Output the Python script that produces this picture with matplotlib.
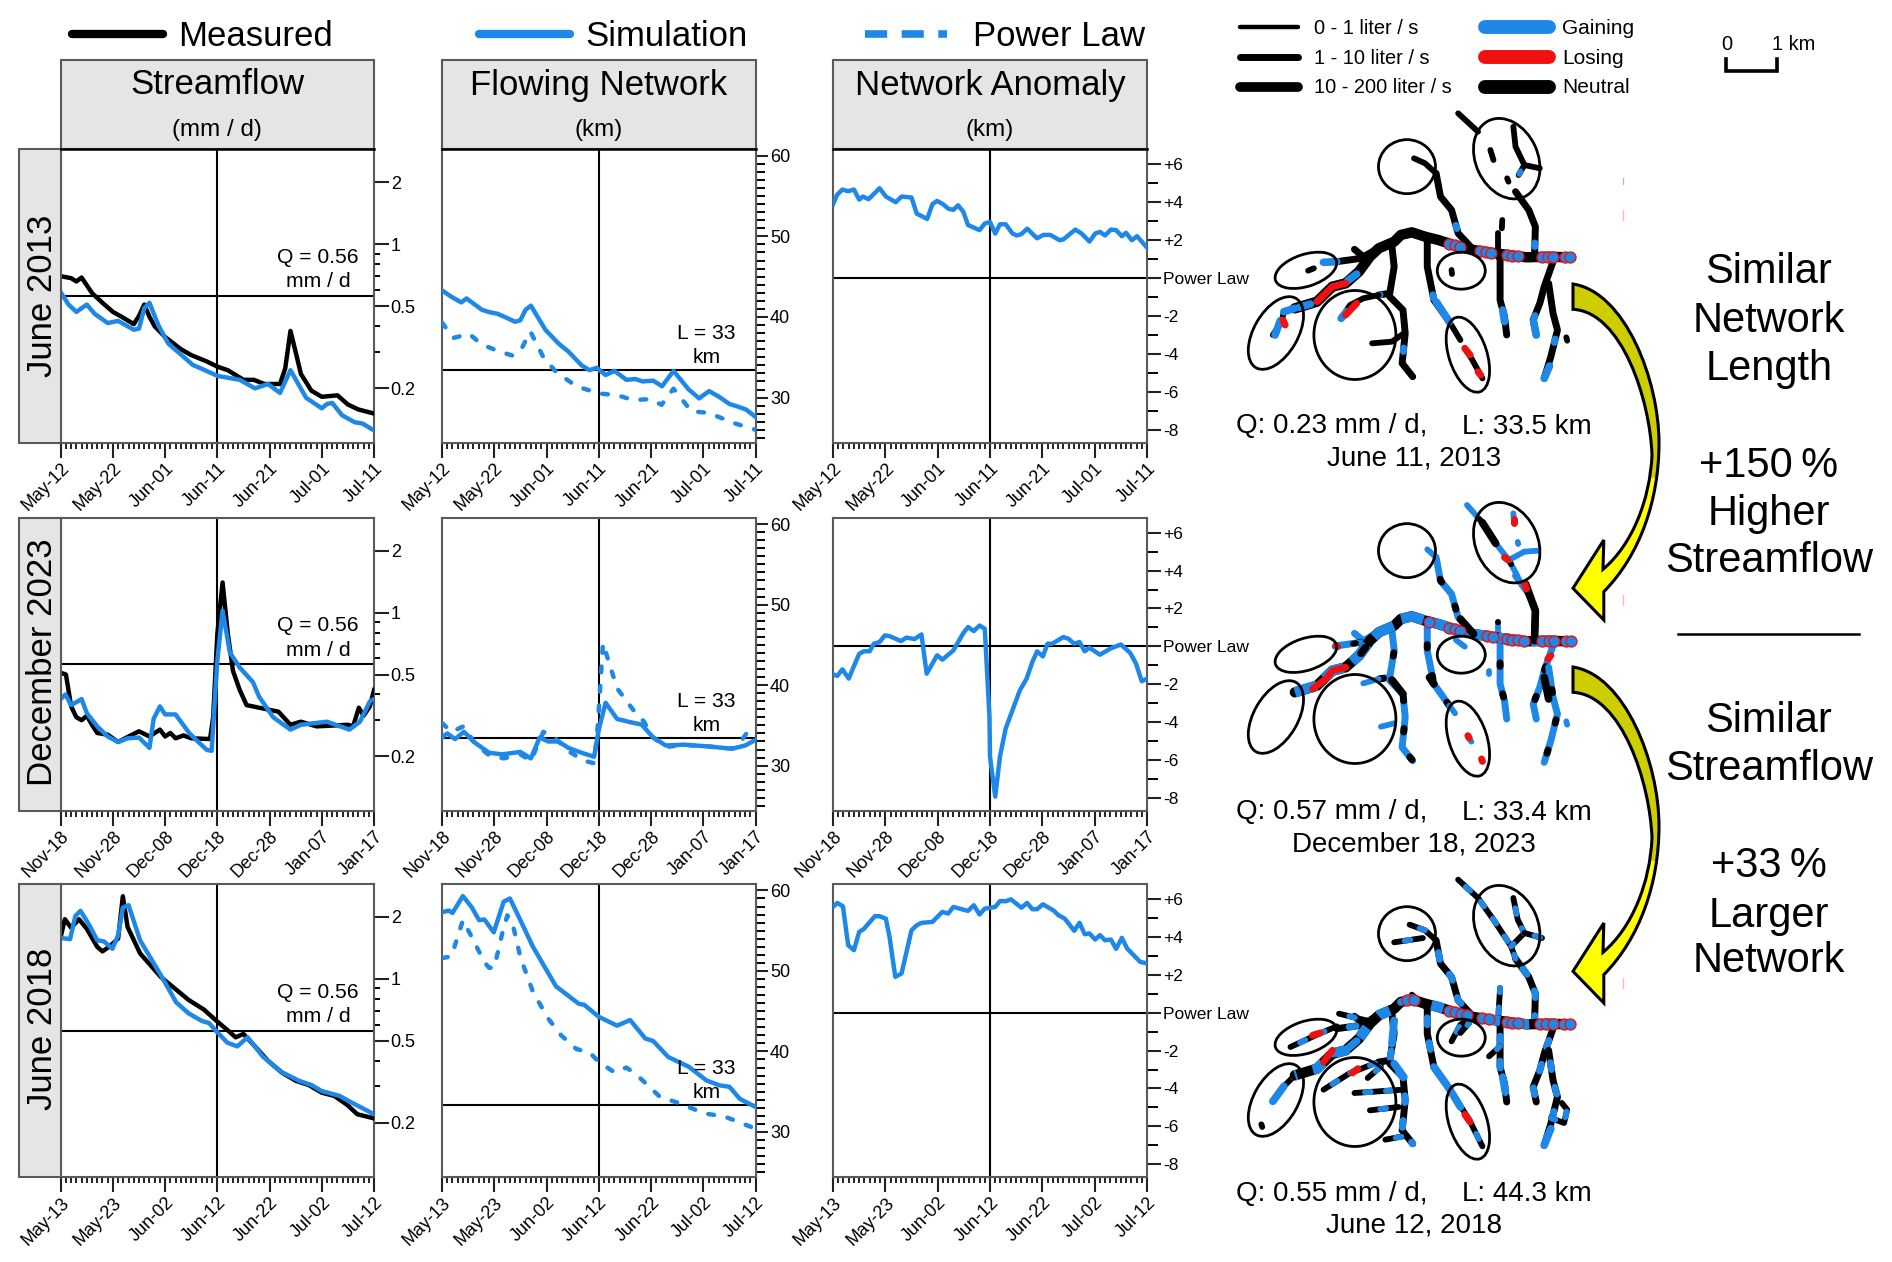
"""Streamflow, flowing network and anomaly panels with network maps."""

import matplotlib

matplotlib.use("Agg")

import matplotlib.pyplot as plt
import numpy as np
from matplotlib.patches import Ellipse, PathPatch, Rectangle
from matplotlib.path import Path
from matplotlib.ticker import NullFormatter

plt.rcParams["font.family"] = ["Liberation Sans", "DejaVu Sans"]

BLUE = "#1E88E8"
RED = "#F01010"
GREY_BOX = "#E5E5E5"
EDGE = "#5A5A5A"

# x tick labels per row
X_LABELS_A = ["May-12", "May-22", "Jun-01", "Jun-11", "Jun-21", "Jul-01", "Jul-11"]
X_LABELS_B = ["Nov-18", "Nov-28", "Dec-08", "Dec-18", "Dec-28", "Jan-07", "Jan-17"]
X_LABELS_C = ["May-13", "May-23", "Jun-02", "Jun-12", "Jun-22", "Jul-02", "Jul-12"]
ROW_NAMES = ["June 2013", "December 2023", "June 2018"]
COL_TITLES = ["Streamflow", "Flowing Network", "Network Anomaly"]
COL_UNITS = ["(mm / d)", "(km)", "(km)"]

Q_REF = 0.56
L_REF = 33.4

# June 2013 streamflow
Q13_MEAS_D = [0, 2, 3, 4, 6, 8, 10, 12, 14, 15, 16, 17, 18, 20, 23, 25, 28, 30, 32, 35, 37, 39, 41, 42, 43, 44, 45, 46, 48, 50, 52, 53, 55, 57, 60]
Q13_MEAS = [.70, .685, .66, .69, .58, .52, .47, .44, .41, .45, .51, .445, .40, .355, .31, .29, .27, .255, .245, .22, .22, .21, .21, .21, .25, .38, .30, .235, .195, .182, .184, .185, .167, .158, .151]
Q13_SIM_D = [0, 1.5, 3, 5, 6.5, 9, 11, 14, 15, 16, 17, 18.7, 20.6, 23.5, 25.3, 28.4, 30, 34.3, 37.2, 39.7, 42, 44, 47, 50, 51, 52, 53.9, 56.3, 57.8, 60]
Q13_SIM = [.585, .51, .47, .51, .46, .415, .425, .385, .39, .49, .52, .405, .33, .285, .26, .24, .23, .22, .20, .21, .19, .245, .18, .16, .168, .17, .148, .137, .135, .125]

# December 2023 streamflow
Q23_MEAS_D = [0, 1, 2, 3, 4, 5, 6, 7, 9, 11, 13, 15, 17, 19, 20, 21, 22, 23.5, 25, 28.6, 29.2, 30, 31, 32, 33, 34.3, 35.6, 38, 41.7, 44, 46, 49, 55, 56, 57.1, 58, 59.2, 60]
Q23_MEAS = [.51, .50, .35, .31, .30, .315, .285, .26, .255, .235, .25, .265, .25, .27, .25, .26, .245, .253, .245, .243, .31, .79, 1.4, .79, .52, .42, .355, .345, .33, .285, .295, .28, .285, .28, .345, .315, .35, .42]
Q23_SIM_D = [0, .9, 2, 4, 5, 7, 9, 11, 12.8, 15, 17, 17.8, 19, 20, 22, 24.6, 26, 28, 28.9, 30, 31, 32.4, 34.3, 36.8, 38, 40.7, 44, 46, 51, 55.3, 57.3, 59.2, 60]
Q23_SIM = [.38, .40, .355, .38, .325, .28, .25, .235, .245, .247, .22, .305, .35, .32, .32, .26, .24, .215, .213, .585, 1.02, .64, .54, .46, .39, .31, .27, .285, .295, .27, .295, .37, .38]

# June 2018 streamflow
Q18_MEAS_D = [0, .8, 2, 3.5, 5, 7, 8, 9.4, 11, 11.9, 12.8, 15.2, 19.2, 24.5, 27.4, 30, 31.9, 33.5, 35, 37.2, 39.7, 42.4, 45, 47.5, 50, 52.4, 54.8, 56.8, 60]
Q18_MEAS = [1.6, 1.95, 1.77, 1.95, 1.75, 1.43, 1.36, 1.44, 1.57, 2.52, 1.79, 1.33, 1.02, .79, .71, .62, .565, .52, .54, .47, .40, .35, .32, .305, .28, .27, .245, .22, .21]
Q18_SIM_D = [0, 1.8, 2.8, 3.8, 5.5, 7, 8.3, 9.9, 11, 11.9, 13, 15.2, 19.2, 22.1, 24.5, 27, 28.4, 30, 31.9, 33.8, 35.8, 38.7, 42.1, 45.6, 48, 50, 53.4, 55.8, 60]
Q18_SIM = [1.58, 1.56, 2.02, 2.14, 1.82, 1.54, 1.52, 1.40, 1.63, 2.22, 2.28, 1.54, 1.04, .77, .68, .625, .61, .55, .49, .47, .52, .42, .355, .32, .305, .285, .27, .25, .22]

# June 2013 flowing network
L13_SIM_D = [0, 1.8, 3.7, 4.7, 7.6, 9, 10.6, 12, 14, 15, 16, 17, 18.4, 19.8, 22.3, 24.2, 26.7, 28.2, 29.6, 31.3, 33, 35.3, 37, 38.4, 40.4, 42.1, 44.3, 47.2, 49.2, 51.1, 53, 55, 56.5, 58.2, 60]
L13_SIM = [43.3, 42.5, 41.8, 42.3, 40.9, 40.6, 40.4, 40, 39.4, 39.6, 40.9, 41.4, 39.9, 38.4, 36.7, 35.7, 34, 33.4, 33.7, 32.8, 33.3, 32.2, 32.3, 32, 32.1, 31.4, 33.3, 31, 29.9, 30.8, 30.1, 29.2, 28.9, 28.5, 27.6]
L13_PL_D = [0, 2.2, 5.2, 7.6, 10.6, 13.5, 15.4, 16.9, 19.4, 21.8, 25.7, 30.1, 33.5, 36.5, 39.9, 42, 44.3, 47.7, 51, 56, 60]
L13_PL = [39.3, 37.4, 37.9, 36.6, 35.8, 35.2, 36.3, 38.2, 35, 33.2, 31.4, 30.5, 30.3, 29.7, 29.8, 29.1, 31.1, 28.3, 28.1, 26.8, 26]

# December 2023 flowing network
L23_SIM_D = [0, 1, 2.5, 4.2, 6.2, 9, 11.5, 15, 17, 18.7, 20.3, 22.3, 24.2, 26.7, 29.1, 30, 31.3, 33.5, 36, 38.2, 40.4, 42.8, 46.2, 50.6, 55.5, 58, 60]
L23_SIM = [33.5, 34, 33.3, 34.2, 32.9, 31.6, 31.4, 31.7, 30.9, 33.5, 33, 33, 32.2, 31.6, 31.1, 34.5, 37.8, 35.8, 35.4, 35.1, 33.5, 32.5, 32.6, 32.4, 32.1, 32.5, 33.2]
L23_PL_D = [0, 1.8, 4.2, 6.2, 9, 11.8, 15, 17, 19.4, 21.8, 24.2, 27.2, 29.1, 29.8, 30.8, 32, 33.5, 36.5, 38.6, 40.4, 42.8, 46.2, 50.6, 55.5, 57.5, 59, 60]
L23_PL = [35.3, 34.2, 34.9, 32.8, 31.3, 30.9, 31.4, 30.6, 34.2, 33.3, 31.8, 30.6, 30.3, 34.9, 45.2, 42.7, 39.6, 37, 35.5, 33.5, 32.3, 32.6, 32.4, 32.1, 33.3, 34.7, 34.9]

# June 2018 flowing network
L18_SIM_D = [0, 1.3, 2, 4, 5.7, 7.1, 8.1, 9.9, 11.8, 13, 15, 17.4, 21.8, 26.2, 27.2, 30, 33.5, 36, 38.9, 40.4, 43.3, 47.2, 50.6, 53, 55, 57, 60]
L18_SIM = [57.3, 57.5, 57.2, 59.3, 57.9, 56.3, 56.4, 54.8, 58.6, 59, 56.3, 53, 48.1, 45.9, 45.8, 44.3, 43.2, 43.9, 41.6, 41.3, 39.3, 38.1, 36.4, 35.8, 35.6, 34.1, 33.1]
L18_PL_D = [0, 1.8, 4, 5.7, 8.1, 9, 10, 11.5, 12.5, 13.5, 15, 17.4, 20.3, 22.8, 25.7, 28.2, 30, 33, 35.3, 37.4, 41.8, 45.3, 50.2, 54.1, 60]
L18_PL = [51.6, 51.8, 56.3, 54.2, 51.1, 50.4, 50.4, 54.6, 56.9, 55.9, 51.7, 47.4, 44.1, 42, 40.3, 39.9, 38.7, 37.4, 38, 37, 34.3, 33.6, 32.3, 31.9, 30.4]

# network anomaly
A13_D = [0, .8, 1.8, 2.9, 4, 5, 5.7, 6.8, 8.9, 10.1, 12, 13.1, 15, 16, 18, 19, 19.9, 21, 22.1, 23, 23.9, 24.9, 25.8, 28, 29, 30, 31, 31.9, 33, 34.3, 35.1, 36, 37.1, 39, 40.2, 41.5, 43.3, 44, 46.3, 47.5, 49, 50.1, 51, 52, 53.1, 54.1, 55.2, 56, 57.1, 58.1, 60]
A13 = [3.9, 4.4, 4.67, 4.58, 4.67, 4.14, 4.3, 4.16, 4.74, 4.3, 4, 4.3, 4.25, 3.4, 3.12, 3.9, 4.07, 3.9, 3.65, 3.6, 3.84, 3.5, 2.8, 2.53, 2.88, 2.96, 2.35, 2.84, 2.84, 2.35, 2.25, 2.32, 2.61, 2.1, 2.28, 2.28, 2, 2.04, 2.56, 2.35, 1.93, 2.35, 2.44, 2.25, 2.56, 2.53, 2.21, 2.39, 2, 2.21, 1.61]
A23_D = [0, .8, 1.8, 3, 5, 5.9, 7, 7.8, 8.9, 9.9, 10.8, 13, 14, 15.6, 16.9, 17.9, 19.9, 20.9, 23, 24.9, 25.8, 26.9, 28, 29, 29.9, 30, 31, 31.9, 33, 35.7, 37, 38.1, 39, 40.1, 41, 41.9, 44, 45, 46.1, 47.1, 48.1, 49, 51, 53, 55, 56.8, 57.9, 59, 60]
A23 = [-1.47, -1.56, -1.21, -1.7, -.39, -.26, -.26, .14, .23, .58, .54, .28, .46, .39, .63, -1.44, -.47, -.7, -.21, .7, 1.02, .81, 1.1, .93, -3.72, -5.82, -7.93, -5.82, -4.33, -2.32, -1.7, -.82, -.26, -.53, .14, .14, .49, .4, .14, .23, -.26, -.07, -.44, -.12, .1, -.35, -.91, -1.84, -1.7]
A18_D = [0, .8, 1.9, 2.9, 4, 5, 5.9, 8, 8.9, 10.1, 10.8, 11.9, 13.1, 15, 16, 16.9, 19, 20.9, 22, 23, 25.8, 26.9, 28, 29, 31, 31.9, 33, 34, 36, 37.1, 38.1, 39, 40.1, 42.1, 43.1, 44.3, 46.1, 47.1, 48.1, 49, 50.1, 51, 52, 53.1, 54.1, 55.2, 56.2, 58.7, 60]
A18 = [5.58, 5.79, 5.61, 3.56, 3.3, 4.26, 4.42, 5.09, 5.09, 4.96, 4, 1.89, 2.07, 4.35, 4.61, 4.74, 4.79, 5.32, 5.23, 5.58, 5.37, 5.67, 5.18, 5.49, 5.58, 5.89, 5.88, 5.98, 5.54, 5.79, 5.46, 5.46, 5.72, 5.4, 5.14, 4.96, 4.32, 4.74, 4.14, 4.18, 3.86, 4.09, 3.82, 3.86, 3.37, 3.95, 3.39, 2.68, 2.6]

# map annotations: Q, L, date
MAP_Q = ["0.23", "0.57", "0.55"]
MAP_L = ["33.5", "33.4", "44.3"]
MAP_DATE = ["June 11, 2013", "December 18, 2023", "June 12, 2018"]

MAP_MAIN = [(215, 925), (265, 905), (300, 860), (330, 850), (360, 815), (385, 770), (405, 745), (440, 725), (455, 705), (480, 697), (510, 710), (540, 720), (575, 735), (620, 750), (670, 760), (740, 772), (790, 770), (835, 772)]
MAP_TRIBS = [
    [(535, 520), (545, 590), (570, 630), (585, 700), (620, 750)],
    [(715, 575), (745, 630), (760, 680), (758, 770)],
    [(350, 748), (370, 770), (405, 745)],
    [(310, 785), (365, 775)],
    [(435, 740), (440, 800), (430, 880), (405, 885)],
    [(430, 890), (460, 930), (465, 1000), (458, 1090), (482, 1130)],
    [(515, 715), (515, 800), (530, 900), (565, 965)],
    [(680, 770), (680, 900), (690, 950), (695, 1005)],
    [(800, 785), (780, 860), (770, 910), (755, 960), (762, 1005)],
    [(790, 850), (800, 940), (810, 990), (795, 1070), (780, 1135)],
]
MAP_ROW_REACHES = [
    [
        [(585, 340), (630, 395)], [(485, 475), (510, 490), (535, 520)],
        [(710, 380), (715, 440), (735, 495), (722, 525)], [(735, 495), (770, 505)],
        [(658, 450), (665, 480)], [(696, 535), (699, 545)], [(245, 812), (258, 805)],
        [(570, 810), (571, 822)], [(165, 1005), (185, 965), (190, 935), (215, 925)],
        [(278, 787), (310, 785)], [(320, 955), (340, 915), (370, 895), (405, 885)],
        [(390, 1030), (435, 1025), (462, 1000)], [(565, 965), (590, 1020)],
        [(600, 1045), (615, 1075), (640, 1135)], [(675, 770), (675, 700)],
        [(685, 660), (684, 685)], [(830, 1012), (832, 1022)],
    ],
    [
        [(605, 363), (640, 416), (670, 478), (700, 528), (720, 578)],
        [(735, 503), (700, 528)], [(735, 503), (765, 500)], [(710, 388), (712, 418)],
        [(720, 474), (721, 480)], [(515, 496), (535, 520)], [(580, 768), (600, 788)],
        [(655, 860), (655, 870)], [(240, 913), (265, 905)], [(305, 788), (365, 775)],
        [(370, 898), (405, 885)], [(410, 1028), (440, 1018)], [(565, 965), (578, 988)],
        [(607, 1058), (615, 1073)], [(638, 1125), (640, 1132)], [(675, 770), (675, 713)],
        [(830, 1012), (832, 1022)],
    ],
    [
        [(585, 338), (630, 393), (665, 458), (705, 538), (715, 575)],
        [(710, 393), (720, 458), (735, 498), (705, 538)], [(735, 498), (775, 513)],
        [(475, 473), (510, 490), (535, 520)], [(440, 526), (505, 513)],
        [(205, 840), (265, 803), (310, 778)], [(570, 823), (590, 773), (610, 758)],
        [(590, 798), (610, 768)], [(139, 1072), (141, 1080)],
        [(165, 1003), (190, 958), (215, 925)], [(280, 968), (340, 918), (405, 885)],
        [(380, 933), (410, 898)], [(350, 978), (460, 968)], [(385, 1030), (450, 1020)],
        [(565, 965), (610, 1058), (640, 1138)], [(675, 770), (680, 663)],
        [(315, 740), (385, 763)], [(480, 683), (510, 718)], [(655, 868), (680, 838)],
        [(420, 1118), (460, 1108)], [(820, 1008), (832, 1028), (825, 1068), (795, 1053)],
    ],
]
# longer stretches where the status differs from the rest of the map
MAP_ACCENT = [
    [[(280, 787), (310, 785)], [(190, 935), (215, 925)], [(182, 962), (170, 1005)], [(320, 955), (332, 935)],
     [(535, 905), (565, 965)], [(686, 930), (690, 965)], [(756, 965), (762, 1005)], [(780, 1135), (792, 1098)],
     [(335, 842), (355, 822)], [(225, 922), (250, 912)]],
    [[(738, 600), (760, 680), (758, 770)], [(590, 705), (620, 750)], [(780, 880), (790, 945)],
     [(435, 888), (460, 930)], [(640, 416), (670, 478)], [(520, 880), (530, 900)],
     [(365, 808), (375, 790)]],
    [[(300, 860), (330, 850), (355, 822)], [(165, 1003), (190, 958)], [(530, 900), (565, 965), (590, 1020)],
     [(780, 1135), (795, 1085)], [(440, 760), (435, 830)], [(440, 890), (462, 930)], [(455, 705), (480, 697)],
     [(686, 930), (692, 975)]],
]
MAP_RED = [
    [[(265, 905), (300, 860), (330, 850)], [(188, 960), (193, 975)], [(330, 945), (355, 910)], [(600, 1045), (612, 1065)], [(630, 1115), (636, 1125)]],
    [[(255, 915), (285, 885), (300, 860), (330, 850)], [(607, 1055), (610, 1062)], [(638, 1125), (640, 1132)], [(712, 405), (712, 418)], [(690, 520), (698, 528)], [(735, 598), (740, 615)], [(788, 825), (795, 815)], [(308, 785), (312, 788)]],
    [[(280, 885), (300, 850)], [(255, 805), (272, 798)], [(345, 918), (358, 905)], [(600, 1042), (612, 1065)]],
]
MAP_RING_X = [
    [565, 578, 590, 635, 648, 660, 695, 708, 720, 775, 788, 800, 828, 838],
    [520, 565, 578, 590, 650, 665, 695, 708, 720, 735, 775, 790, 803, 830, 840],
    [470, 485, 565, 578, 592, 605, 640, 655, 695, 708, 720, 770, 785, 800, 825, 838],
]
# row 1 black with some blue, row 2 mostly blue, row 3 mixed
MAP_BASE = ["black", BLUE, "black"]
MAP_OVER = [BLUE, "black", BLUE]
MAP_DASH = [(0.5, 9), (0.5, 4), (1.0, 2.6)]
MAP_MAIN_BLUE = [None, (0, (2.2, 1.0)), (1, (1.2, 1.6))]
MAP_SHIFT = [0, 384, 767]
# ellipses: x, y (map units), width, height (px), angle
MAP_ELLIPSES = [
    (469, 500, 57, 54, 0), (695, 476, 84, 62, 65), (240, 811, 64, 32, -18),
    (592, 812, 48, 37, 0), (172, 999, 80, 44, -60), (351, 1005, 82, 89, 0),
    (607, 1064, 78, 38, 72),
]
# stray marks right of the maps
MAP_SPECKS = [(178, 184, "#BBBBBB"), (210, 220, "#F8B8C0"), (595, 605, "#F8B8C0"), (978, 988, "#F8B8C0")]

W, H = 1892, 1262
fig = plt.figure(figsize=(W / 100, H / 100), dpi=100, facecolor="white")


def px_axes(x0, y0, x1, y1):
    return fig.add_axes([x0 / W, 1 - y1 / H, (x1 - x0) / W, (y1 - y0) / H])


COL_X = [(60.7, 374), (442, 755.6), (833, 1147)]
ROW_Y = [(149.3, 442.7), (517.7, 810.7), (884, 1177)]
ROW_LABEL_Y = [295.5, 662, 1029]


def style_panel(ax, x_labels, row):
    ax.set_xlim(0, 60)
    ax.set_xticks(np.arange(0, 61, 10))
    ax.set_xticks(np.arange(0, 61, 1), minor=True)
    ax.set_xticklabels(x_labels, rotation=45, ha="right", va="top", rotation_mode="anchor", fontsize=13)
    ax.yaxis.tick_right()
    ax.tick_params(axis="x", which="major", length=10.5, width=1.5, pad=2, color="#222222")
    ax.tick_params(axis="x", which="minor", length=4.2, width=1.4, color="#222222")
    ax.tick_params(axis="y", which="major", width=1.5, labelsize=13, pad=1.5, color="#222222")
    for side, spine in ax.spines.items():
        spine.set_color(EDGE)
        spine.set_linewidth(1.5)
    if row == 0:
        ax.spines["top"].set_color("black")
    ax.axvline(30, color="black", lw=1.5, zorder=2)


def panel_streamflow(ax, row, meas, sim, x_labels):
    style_panel(ax, x_labels, row)
    ax.set_yscale("log")
    ax.set_ylim(0.109, 2.89)
    ax.set_yticks([0.2, 0.5, 1, 2])
    ax.set_yticklabels(["0.2", "0.5", "1", "2"])
    ax.set_yticks([0.3, 0.4, 0.6, 0.7, 0.8, 0.9], minor=True)
    ax.yaxis.set_minor_formatter(NullFormatter())
    ax.tick_params(axis="y", which="major", length=10.5)
    ax.tick_params(axis="y", which="minor", length=4.5, width=1.4)
    ax.axhline(Q_REF, color="black", lw=1.5, zorder=2)
    ax.plot(meas[0], meas[1], color="black", lw=3.2, zorder=3)
    ax.plot(sim[0], sim[1], color=BLUE, lw=3.2, zorder=4)


def panel_network(ax, row, pl, sim, x_labels):
    style_panel(ax, x_labels, row)
    ax.set_ylim(24.4, 60.8)
    ax.set_yticks([30, 40, 50, 60])
    ax.set_yticks(np.arange(25, 61, 1), minor=True)
    ax.tick_params(axis="y", which="major", length=8.8)
    ax.tick_params(axis="y", which="minor", length=6.5, width=1.4)
    ax.axhline(L_REF, color="black", lw=1.5, zorder=2)
    ax.plot(pl[0], pl[1], color=BLUE, lw=3.2, ls=(0, (1.3, 3.1)), dash_capstyle="round", zorder=3)
    ax.plot(sim[0], sim[1], color=BLUE, lw=3.2, zorder=4)


def panel_anomaly(ax, row, anom, x_labels):
    style_panel(ax, x_labels, row)
    ax.set_ylim(-8.67, 6.79)
    ax.set_yticks([-8, -6, -4, -2, 0, 2, 4, 6])
    ax.set_yticklabels(["-8", "-6", "-4", "-2", "Power Law", "+2", "+4", "+6"], fontsize=12.5)
    ax.set_yticks(np.arange(-7, 6, 2), minor=True)
    ax.tick_params(axis="y", which="major", length=10.2)
    ax.tick_params(axis="y", which="minor", length=7.6, width=1.4)
    ax.axhline(0, color="black", lw=1.5, zorder=2)
    ax.plot(anom[0], anom[1], color=BLUE, lw=3.2, zorder=4)


rows = [
    (X_LABELS_A, (Q13_MEAS_D, Q13_MEAS), (Q13_SIM_D, Q13_SIM), (L13_PL_D, L13_PL), (L13_SIM_D, L13_SIM), (A13_D, A13)),
    (X_LABELS_B, (Q23_MEAS_D, Q23_MEAS), (Q23_SIM_D, Q23_SIM), (L23_PL_D, L23_PL), (L23_SIM_D, L23_SIM), (A23_D, A23)),
    (X_LABELS_C, (Q18_MEAS_D, Q18_MEAS), (Q18_SIM_D, Q18_SIM), (L18_PL_D, L18_PL), (L18_SIM_D, L18_SIM), (A18_D, A18)),
]
for row, (labels, q_meas, q_sim, l_pl, l_sim, anom) in enumerate(rows):
    y0, y1 = ROW_Y[row]
    panel_streamflow(px_axes(COL_X[0][0], y0, COL_X[0][1], y1), row, q_meas, q_sim, labels)
    panel_network(px_axes(COL_X[1][0], y0, COL_X[1][1], y1), row, l_pl, l_sim, labels)
    panel_anomaly(px_axes(COL_X[2][0], y0, COL_X[2][1], y1), row, anom, labels)

# everything else goes on one overlay in pixel units
over = fig.add_axes([0, 0, 1, 1], zorder=10)
over.set_xlim(0, W)
over.set_ylim(H, 0)
over.axis("off")
over.patch.set_alpha(0)

# column headers
for col, (x0, x1) in enumerate(COL_X):
    over.add_patch(Rectangle((x0, 60), x1 - x0, 89.3, fc=GREY_BOX, ec=EDGE, lw=1.5))
    over.plot([x0, x1], [149.3, 149.3], color="black", lw=1.8)
    mid = (x0 + x1) / 2
    over.text(mid, 85, COL_TITLES[col], ha="center", va="center", fontsize=25)
    over.text(mid, 130, COL_UNITS[col], ha="center", va="center", fontsize=17.4)

# row label boxes
for row, (y0, y1) in enumerate(ROW_Y):
    over.add_patch(Rectangle((19.4, y0), 41.3, y1 - y0, fc=GREY_BOX, ec=EDGE, lw=1.5))
    over.text(42.5, ROW_LABEL_Y[row], ROW_NAMES[row], rotation=90, ha="center", va="center", fontsize=25)
    over.text(318, y0 + 108, "Q = 0.56", ha="center", va="center", fontsize=15.2)
    over.text(318, y0 + 132.5, "mm / d", ha="center", va="center", fontsize=15.2)
    over.text(706.6, y0 + 184, "L = 33", ha="center", va="center", fontsize=15.2)
    over.text(706.6, y0 + 208, "km", ha="center", va="center", fontsize=15.2)

# top legend
over.plot([72, 163], [34, 34], color="black", lw=6, solid_capstyle="round")
over.text(178.6, 36.5, "Measured", va="center", fontsize=25)
over.plot([479, 570], [34, 34], color=BLUE, lw=6, solid_capstyle="round")
over.text(585, 36.5, "Simulation", va="center", fontsize=25)
over.plot([865, 947], [34, 34], color=BLUE, lw=5.5, ls=(0, (2.9, 1.9)))
over.text(972.6, 36.5, "Power Law", va="center", fontsize=25)

# map legend
for y, lw, label in zip([27.3, 57.3, 86.7], [3.2, 5, 7], ["0 - 1 liter / s", "1 - 10 liter / s", "10 - 200 liter / s"]):
    over.plot([1240, 1298], [y, y], color="black", lw=lw, solid_capstyle="round")
    over.text(1313.9, y + 1, label, va="center", fontsize=14.4)
for y, color, label in zip([27.3, 57.3, 86.7], [BLUE, RED, "black"], ["Gaining", "Losing", "Neutral"]):
    over.plot([1485, 1549], [y, y], color=color, lw=10, solid_capstyle="round")
    over.text(1562, y + 1, label, va="center", fontsize=15)

# scale bar
over.plot([1726, 1726, 1777, 1777], [59, 71, 71, 59], color="black", lw=2.6, solid_joinstyle="miter")
over.text(1726.5, 45, "0", ha="center", va="center", fontsize=14.4)
over.text(1771.5, 45, "1 km", ha="left", va="center", fontsize=14.4)


def map_xy(points, row):
    pts = np.asarray(points, dtype=float)
    return 1200 + pts[:, 0] / 2.266, pts[:, 1] / 3 + MAP_SHIFT[row]


def draw_reach(points, row, lw):
    xs, ys = map_xy(points, row)
    over.plot(xs, ys, color=MAP_BASE[row], lw=lw, solid_capstyle="round", solid_joinstyle="round")
    on, off = MAP_DASH[row]
    # start inside a gap so that short reaches keep the base colour
    over.plot(xs, ys, color=MAP_OVER[row], lw=lw, ls=(on + 0.8, (on, off)), dash_capstyle="round")


for row in range(3):
    main_x = [p[0] for p in MAP_MAIN]
    main_y = [p[1] for p in MAP_MAIN]
    for reach in MAP_TRIBS:
        draw_reach(reach, row, 5)
    for reach in MAP_ROW_REACHES[row]:
        draw_reach(reach, row, 4.2)
    xs, ys = map_xy(MAP_MAIN, row)
    over.plot(xs, ys, color="black", lw=7.5, solid_capstyle="round")
    if MAP_MAIN_BLUE[row] is not None:
        over.plot(xs, ys, color=BLUE, lw=7.5, ls=MAP_MAIN_BLUE[row])
    for piece in MAP_ACCENT[row]:
        xs, ys = map_xy(piece, row)
        over.plot(xs, ys, color=MAP_OVER[row], lw=5.5, solid_capstyle="round")
    rx = np.asarray(MAP_RING_X[row], dtype=float)
    rxs, rys = map_xy(np.column_stack([rx, np.interp(rx, main_x, main_y)]), row)
    over.scatter(rxs, rys, s=62, facecolor=BLUE, edgecolor=RED, linewidth=1.0, zorder=3)
    for piece in MAP_RED[row]:
        xs, ys = map_xy(piece, row)
        over.plot(xs, ys, color=RED, lw=5, solid_capstyle="round", zorder=4)
    for ex, ey, width, height, angle in MAP_ELLIPSES:
        cx, cy = map_xy([(ex, ey)], row)
        over.add_patch(Ellipse((cx[0], cy[0]), width, height, angle=angle, fill=False, ec="black", lw=2, zorder=5))
    text_y = [426.5, 812.5, 1194][row]
    over.text(1235.5, text_y, f"Q: {MAP_Q[row]} mm / d,", va="center", fontsize=20)
    over.text(1461.5, text_y, f"L: {MAP_L[row]} km", va="center", fontsize=20)
    over.text(1414, text_y + 32, MAP_DATE[row], ha="center", va="center", fontsize=20)

for y0, y1, color in MAP_SPECKS:
    over.plot([1622.8, 1622.8], [y0, y1], color=color, lw=1)


def arrow_path(dy):
    verts = [
        (1573, 284), (1625, 292), (1659, 380), (1659, 443),
        (1659, 500), (1640, 555), (1603.8, 591.7),
        (1603.8, 620), (1573, 588.3), (1603.8, 540), (1603, 569.3),
        (1632, 545), (1650, 500), (1652, 455),
        (1650, 400), (1622, 312), (1573, 309.3), (1573, 284),
    ]
    codes = [Path.MOVETO, Path.CURVE4, Path.CURVE4, Path.CURVE4,
             Path.CURVE4, Path.CURVE4, Path.CURVE4,
             Path.LINETO, Path.LINETO, Path.LINETO, Path.LINETO,
             Path.CURVE4, Path.CURVE4, Path.CURVE4,
             Path.CURVE4, Path.CURVE4, Path.CURVE4, Path.CLOSEPOLY]
    return Path([(x, y + dy) for x, y in verts], codes)


for dy in [0, 383]:
    split = 478 + dy
    top = PathPatch(arrow_path(dy), fc="#CDCD00", ec="none", zorder=2)
    over.add_patch(top)
    top.set_clip_path(Rectangle((1500, 200 + dy), 300, split - 200 - dy, transform=over.transData))
    low = PathPatch(arrow_path(dy), fc="#FFFF00", ec="none", zorder=2)
    over.add_patch(low)
    low.set_clip_path(Rectangle((1500, split), 300, 300, transform=over.transData))
    over.add_patch(PathPatch(arrow_path(dy), fc="none", ec="black", lw=2.2, zorder=3))

# right hand comments
for y, txt in [(272, "Similar"), (321, "Network"), (369, "Length"), (466, "+150\u2009%"),
               (514, "Higher"), (561, "Streamflow"), (720.7, "Similar"), (769, "Streamflow"),
               (865.7, "+33\u2009%"), (915.7, "Larger"), (960.7, "Network")]:
    over.text(1769, y, txt, ha="center", va="center", fontsize=30)
over.plot([1678, 1859], [634, 634], color="black", lw=1.8)

fig.savefig("out.png", dpi=100, facecolor="white")
